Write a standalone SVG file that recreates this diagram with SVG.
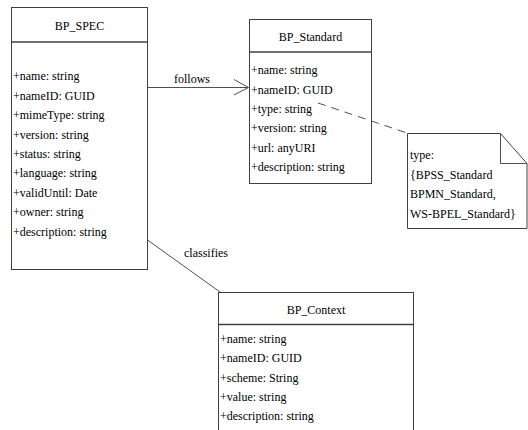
<svg xmlns="http://www.w3.org/2000/svg" width="528" height="430" viewBox="0 0 528 430">
<style>
.box{fill:#fff;stroke:#404040;stroke-width:1}
.sep{stroke:#404040;stroke-width:1.5}
text{font-family:"Liberation Serif","Times New Roman",serif;font-size:12px;fill:#000}
.c{text-anchor:middle}
.ln{stroke:#505050;stroke-width:1;fill:none}
</style>
<rect width="528" height="430" fill="#fff"/>
<g id="BP_SPEC">
<rect class="box" x="11.5" y="7.5" width="136" height="262"/>
<line class="sep" x1="11.5" y1="42" x2="147.5" y2="42"/>
<text class="c" x="79.5" y="30">BP_SPEC</text>
<text x="13" y="80">+name: string</text>
<text x="13" y="99.5">+nameID: GUID</text>
<text x="13" y="119">+mimeType: string</text>
<text x="13" y="138.5">+version: string</text>
<text x="13" y="158">+status: string</text>
<text x="13" y="177">+language: string</text>
<text x="13" y="196.5">+validUntil: Date</text>
<text x="13" y="216">+owner: string</text>
<text x="13" y="235.5">+description: string</text>
</g>
<g id="BP_Standard">
<rect class="box" x="249.5" y="19.5" width="122" height="164"/>
<line class="sep" x1="249.5" y1="52" x2="371.5" y2="52"/>
<text class="c" x="310.5" y="41">BP_Standard</text>
<text x="251" y="74">+name: string</text>
<text x="251" y="93.5">+nameID: GUID</text>
<text x="251" y="113">+type: string</text>
<text x="251" y="132">+version: string</text>
<text x="251" y="151.5">+url: anyURI</text>
<text x="251" y="170.5">+description: string</text>
</g>
<g id="note">
<path class="box" d="M407.5,133.5 H500.5 L527,163.5 V228.5 H407.5 Z"/>
<polyline class="ln" points="500.5,133.5 500.5,163.5 527,163.5"/>
<text x="410" y="159">type:</text>
<text x="410" y="179">{BPSS_Standard</text>
<text x="410" y="198">BPMN_Standard,</text>
<text x="410" y="218">WS-BPEL_Standard}</text>
</g>
<g id="BP_Context">
<rect class="box" x="218.5" y="292.5" width="195" height="150"/>
<line class="sep" x1="218.5" y1="324.5" x2="413.5" y2="324.5"/>
<text class="c" x="316" y="314">BP_Context</text>
<text x="220" y="343">+name: string</text>
<text x="220" y="362">+nameID: GUID</text>
<text x="220" y="382">+scheme: String</text>
<text x="220" y="401">+value: string</text>
<text x="220" y="420">+description: string</text>
</g>
<g id="connectors">
<line class="ln" x1="147.5" y1="87.5" x2="248" y2="87.5"/>
<polyline class="ln" points="234,79.5 248.5,87.5 234,95"/>
<text x="174" y="83">follows</text>
<line class="ln" x1="147.5" y1="240" x2="220" y2="292"/>
<text x="184" y="257">classifies</text>
<line class="ln" x1="318" y1="103" x2="407" y2="133" stroke-dasharray="8,6"/>
</g>
</svg>
